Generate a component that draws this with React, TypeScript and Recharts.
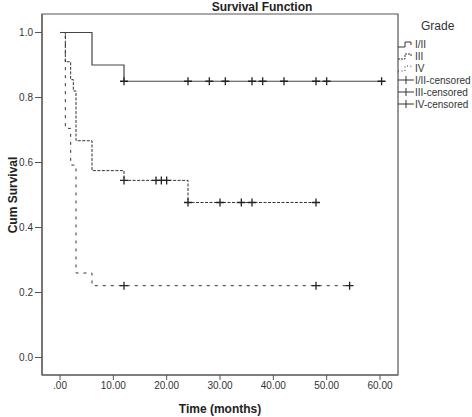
import {
  ComposedChart,
  Customized,
  Legend,
  Line,
  ReferenceArea,
  Scatter,
  XAxis,
  YAxis,
} from "recharts";

// ─── data ────────────────────────────────────────────────────────
const X_TICKS = [0, 10, 20, 30, 40, 50, 60];
const Y_TICKS = [0, 0.2, 0.4, 0.6, 0.8, 1.0];

// Grade I/II
const G12_TIME = [0, 6, 12, 60.3];
const G12_SURV = [1.0, 0.9, 0.85, 0.85];
const G12_CENSORED = [12, 24, 28, 31, 36, 38, 42, 48, 50, 60.3];

// Grade III
const G3_TIME = [0, 1, 2, 2.5, 3, 6, 12, 24, 48];
const G3_SURV = [1.0, 0.91, 0.855, 0.82, 0.667, 0.575, 0.545, 0.477, 0.477];
const G3_CENSORED = [12, 18, 19, 20, 24, 30, 34, 36, 48];

// Grade IV
const G4_TIME = [0, 1, 2, 3, 6, 54.3];
const G4_SURV = [1.0, 0.705, 0.592, 0.26, 0.221, 0.221];
const G4_CENSORED = [12, 48, 54.3];

const X_DOMAIN: [number, number] = [-3.375, 63.375];
const Y_DOMAIN: [number, number] = [-0.0538, 1.0569];

const INK = "#333";
const FONT = "'Liberation Sans', Arial, sans-serif";

const steps = (times: number[], surv: number[]) =>
  times.map((t, i) => ({ t, s: surv[i] }));

// survival value of a step curve at time t (for placing censor marks)
const survAt = (times: number[], surv: number[], t: number) => {
  let s = surv[0];
  times.forEach((tt, i) => {
    if (tt <= t) s = surv[i];
  });
  return s;
};

const censored = (times: number[], surv: number[], cens: number[]) =>
  cens.map((t) => ({ t, s: survAt(times, surv, t) }));

const PlusMark = (props: any) => {
  const { cx, cy } = props;
  if (cx == null || cy == null) return null;
  return (
    <path
      d={`M${cx - 4},${cy}H${cx + 4}M${cx},${cy - 4}V${cy + 4}`}
      stroke="#222"
      strokeWidth={1.3}
      fill="none"
    />
  );
};

// ─── legend ─────────────────────────────────────────────────────
const stepIcon = (y: number) => `M0,${y + 3}H7V${y - 2}H13V${y + 1}`;

const renderLegend = () => {
  const rows = [
    { label: "I/II", dash: undefined, kind: "line" },
    { label: "III", dash: "2 1", kind: "line" },
    { label: "IV", dash: "1 2.5", kind: "line" },
    { label: "I/II-censored", kind: "cens" },
    { label: "III-censored", kind: "cens" },
    { label: "IV-censored", kind: "cens" },
  ];
  return (
    <svg width={74} height={100} style={{ display: "block" }}>
      <text x={23} y={16} fontSize={12} fill={INK} fontFamily={FONT}>
        Grade
      </text>
      {rows.map((r, i) => {
        const y = 30 + i * 12;
        return (
          <g key={r.label}>
            {r.kind === "line" ? (
              <path
                d={stepIcon(y)}
                stroke={INK}
                fill="none"
                strokeDasharray={r.dash}
              />
            ) : (
              <path
                d={`M0,${y}H16M8,${y - 4}V${y + 4}`}
                stroke={INK}
                fill="none"
              />
            )}
            <text
              x={17}
              y={y + 3.5}
              fontSize={10}
              fill={INK}
              fontFamily={FONT}
            >
              {r.label}
            </text>
          </g>
        );
      })}
    </svg>
  );
};

const Titles = () => (
  <g fontFamily={FONT} fontWeight="bold" fill="#222">
    <text x={262} y={11} fontSize={12} textAnchor="middle">
      Survival Function
    </text>
    <text x={220} y={413} fontSize={12} textAnchor="middle">
      Time (months)
    </text>
    <text
      x={0}
      y={0}
      fontSize={12}
      textAnchor="middle"
      transform="translate(17,195) rotate(-90)"
    >
      Cum Survival
    </text>
  </g>
);

export default function App() {
  const tick = { fontSize: 10, fill: INK, fontFamily: FONT };
  return (
    <div style={{ position: "absolute", left: 0, top: 0, background: "#fff" }}>
      <ComposedChart
        width={472}
        height={417}
        margin={{ top: 14, right: 74, bottom: 12, left: 12 }}
      >
        <XAxis
          dataKey="t"
          type="number"
          domain={X_DOMAIN}
          ticks={X_TICKS}
          allowDataOverflow
          tickFormatter={(v: number) => (v === 0 ? ".00" : v.toFixed(2))}
          tick={tick}
          tickSize={5}
          height={30}
          stroke="#555"
        />
        <YAxis
          dataKey="s"
          type="number"
          domain={Y_DOMAIN}
          ticks={Y_TICKS}
          allowDataOverflow
          tickFormatter={(v: number) => v.toFixed(1)}
          tick={tick}
          tickSize={7}
          width={30}
          stroke="#555"
        />
        <ReferenceArea
          x1={X_DOMAIN[0]}
          x2={X_DOMAIN[1]}
          y1={Y_DOMAIN[0]}
          y2={Y_DOMAIN[1]}
          fill="none"
          stroke="#555"
          strokeWidth={1.2}
          ifOverflow="visible"
        />
        <Line
          data={steps(G4_TIME, G4_SURV)}
          dataKey="s"
          type="stepAfter"
          stroke={INK}
          strokeDasharray="3 5"
          dot={false}
          isAnimationActive={false}
        />
        <Line
          data={steps(G3_TIME, G3_SURV)}
          dataKey="s"
          type="stepAfter"
          stroke={INK}
          strokeDasharray="3 1.5"
          dot={false}
          isAnimationActive={false}
        />
        <Line
          data={steps(G12_TIME, G12_SURV)}
          dataKey="s"
          type="stepAfter"
          stroke="#444"
          strokeWidth={1.2}
          dot={false}
          isAnimationActive={false}
        />
        <Scatter
          data={censored(G12_TIME, G12_SURV, G12_CENSORED)}
          dataKey="s"
          shape={PlusMark}
          isAnimationActive={false}
        />
        <Scatter
          data={censored(G3_TIME, G3_SURV, G3_CENSORED)}
          dataKey="s"
          shape={PlusMark}
          isAnimationActive={false}
        />
        <Scatter
          data={censored(G4_TIME, G4_SURV, G4_CENSORED)}
          dataKey="s"
          shape={PlusMark}
          isAnimationActive={false}
        />
        <Legend
          layout="horizontal"
          verticalAlign="middle"
          align="center"
          content={renderLegend}
          wrapperStyle={{ left: 398, top: 14, width: 74, height: 100 }}
        />
        <Customized component={Titles} />
      </ComposedChart>
    </div>
  );
}
